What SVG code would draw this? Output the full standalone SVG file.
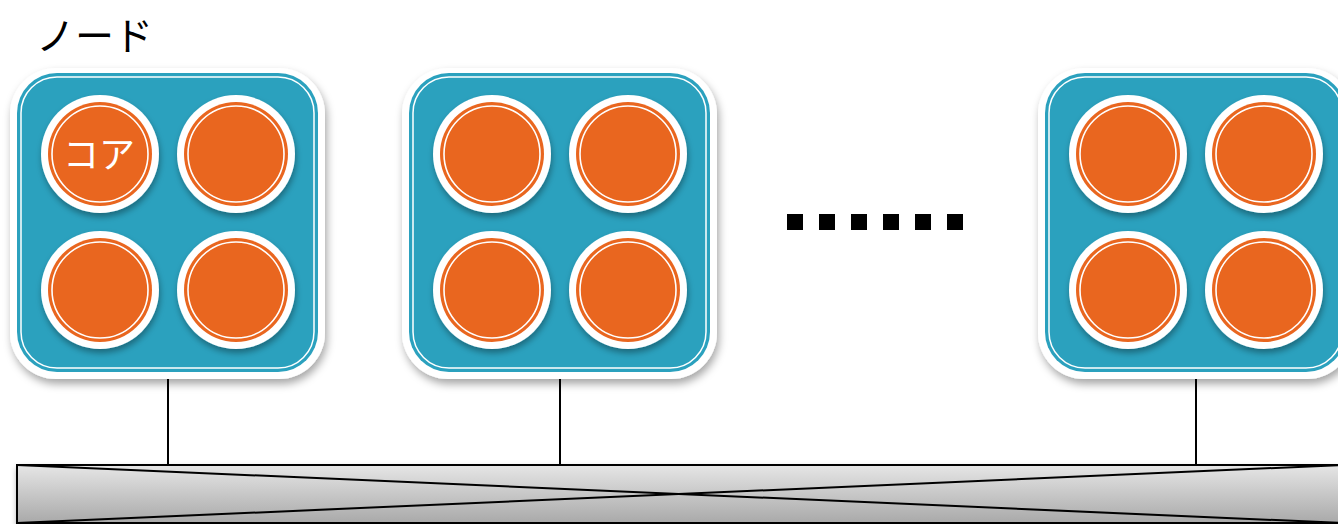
<svg xmlns="http://www.w3.org/2000/svg" width="1338" height="524" viewBox="0 0 1338 524">
<defs>
<style>
.title{font-family:"Noto Sans CJK JP","Liberation Sans",sans-serif;font-size:39px;fill:#000}
.core{font-family:"Noto Sans CJK JP","Liberation Sans",sans-serif;font-size:36px;fill:#fff}
.conn{stroke:#000;stroke-width:2;fill:none}
.outer{fill:#fff}
.panel{fill:#2BA1BE}
.inline{fill:none;stroke:#fff;stroke-width:1.5}
.cw{fill:#fff}
.co{fill:#E9661F}
.cl{fill:none;stroke:#fff;stroke-width:1.6}
</style>
<filter id="sh" x="-20%" y="-20%" width="140%" height="140%">
<feDropShadow dx="2" dy="5" stdDeviation="4" flood-color="#000" flood-opacity="0.35"/>
</filter>
<filter id="csh" x="-20%" y="-20%" width="140%" height="140%">
<feDropShadow dx="1" dy="4" stdDeviation="3" flood-color="#000" flood-opacity="0.35"/>
</filter>
<linearGradient id="bus" x1="0" y1="0" x2="0" y2="1">
<stop offset="0" stop-color="#e6e6e6"/>
<stop offset="1" stop-color="#a9a9a9"/>
</linearGradient>
<g id="core">
<circle r="59" class="cw" filter="url(#csh)"/>
<circle r="52" class="co"/>
<circle r="48" class="cl"/>
</g>
<g id="nodeShape">
<rect x="10" y="68" width="315" height="311" rx="46" class="outer" filter="url(#sh)"/>
<rect x="17" y="73" width="301" height="299" rx="40" class="panel"/>
<rect x="21" y="77" width="293" height="291" rx="36" class="inline"/>
<use href="#core" x="100" y="154"/>
<use href="#core" x="236" y="154"/>
<use href="#core" x="100" y="290"/>
<use href="#core" x="236" y="290"/>
</g>
</defs>
<rect width="1338" height="524" fill="#fff"/>
<text class="title" x="36" y="50">ノード</text>
<g id="connectors">
<line class="conn" x1="168" y1="374" x2="168" y2="464"/>
<line class="conn" x1="560" y1="374" x2="560" y2="464"/>
<line class="conn" x1="1196" y1="374" x2="1196" y2="464"/>
</g>
<g id="bus-node">
<rect x="17" y="465" width="1326" height="58" fill="url(#bus)" stroke="#000" stroke-width="2" filter="url(#csh)"/>
<line class="conn" x1="17" y1="465" x2="1343" y2="523"/>
<line class="conn" x1="17" y1="523" x2="1343" y2="465"/>
</g>
<g id="node1">
<use href="#nodeShape"/>
<text class="core" x="99" y="168" text-anchor="middle">コア</text>
</g>
<g id="node2">
<use href="#nodeShape" x="392"/>
</g>
<g id="node3">
<use href="#nodeShape" x="1028"/>
</g>
<g id="ellipsis" fill="#000">
<rect x="787" y="214" width="16" height="16"/>
<rect x="819" y="214" width="16" height="16"/>
<rect x="851" y="214" width="16" height="16"/>
<rect x="883" y="214" width="16" height="16"/>
<rect x="915" y="214" width="16" height="16"/>
<rect x="947" y="214" width="16" height="16"/>
</g>
</svg>
